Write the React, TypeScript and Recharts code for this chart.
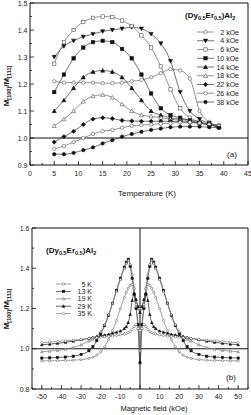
import React from "react";
import { LineChart, Line, XAxis, YAxis, ReferenceLine, ReferenceArea } from "recharts";

// ---- panel (a): ratio vs temperature, one curve per applied field ----
const temps = [5, 7, 9, 11, 13, 15, 17, 19, 21, 23, 25, 27, 29, 31, 33, 35, 37, 39];
const k2 = [1.21, 1.205, 1.205, 1.205, 1.205, 1.203, 1.203, 1.205, 1.21, 1.215, 1.225, 1.24, 1.255, 1.25, 1.22, 1.1, 1.06, 1.045];
const k4 = [1.3, 1.34, 1.36, 1.375, 1.385, 1.395, 1.4, 1.405, 1.41, 1.405, 1.385, 1.35, 1.285, 1.17, 1.1, 1.07, 1.055, 1.045];
const k6 = [1.275, 1.355, 1.4, 1.43, 1.445, 1.45, 1.448, 1.435, 1.415, 1.38, 1.335, 1.265, 1.18, 1.11, 1.075, 1.06, 1.05, 1.045];
const k10 = [1.17, 1.235, 1.295, 1.335, 1.355, 1.36, 1.355, 1.33, 1.295, 1.235, 1.165, 1.11, 1.085, 1.075, 1.065, 1.055, 1.05, 1.04];
const k14 = [1.1, 1.14, 1.185, 1.225, 1.245, 1.25, 1.245, 1.225, 1.185, 1.14, 1.1, 1.085, 1.075, 1.07, 1.065, 1.06, 1.05, 1.04];
const k18 = [1.045, 1.07, 1.1, 1.135, 1.155, 1.16, 1.15, 1.125, 1.1, 1.085, 1.08, 1.075, 1.07, 1.065, 1.06, 1.055, 1.05, 1.045];
const k22 = [0.985, 1.005, 1.025, 1.05, 1.07, 1.075, 1.072, 1.065, 1.063, 1.062, 1.062, 1.062, 1.062, 1.06, 1.058, 1.055, 1.05, 1.04];
const k26 = [0.96, 0.97, 0.985, 1.0, 1.015, 1.025, 1.03, 1.038, 1.045, 1.048, 1.05, 1.053, 1.055, 1.058, 1.058, 1.055, 1.05, 1.045];
const k38 = [0.94, 0.94, 0.945, 0.955, 0.965, 0.98, 0.992, 1.005, 1.015, 1.023, 1.03, 1.035, 1.04, 1.042, 1.042, 1.042, 1.04, 1.038];

const tempTicksMajor = [0, 5, 10, 15, 20, 25, 30, 35, 40, 45];
const tempTicksMinor = [2.5, 7.5, 12.5, 17.5, 22.5, 27.5, 32.5, 37.5, 42.5];
const ratioTicksMajorA = [0.9, 1.0, 1.1, 1.2, 1.3, 1.4, 1.5];
const ratioTicksMinorA = [0.95, 1.05, 1.15, 1.25, 1.35, 1.45];

// ---- panel (b): ratio vs field, one curve per temperature ----
const fields = [-50, -46, -42, -38, -34, -30, -26, -24, -22, -20, -18, -16, -14, -12, -10, -8, -7, -6, -5, -4, -3, -2, -1, 0,
  1, 2, 3, 4, 5, 6, 7, 8, 10, 12, 14, 16, 18, 20, 22, 24, 26, 30, 34, 38, 42, 46, 50];
const t5 = [0.94, 0.94, 0.941, 0.942, 0.943, 0.946, 0.952, 0.958, 0.968, 0.985, 1.01, 1.045, 1.09, 1.14, 1.2, 1.255, 1.28, 1.3, 1.315, 1.32, 1.3, 1.22, 1.2, 1.2,
  1.2, 1.22, 1.3, 1.32, 1.315, 1.3, 1.28, 1.255, 1.2, 1.14, 1.09, 1.045, 1.01, 0.985, 0.968, 0.958, 0.952, 0.946, 0.943, 0.942, 0.941, 0.94, 0.94];
const t13 = [0.954, 0.955, 0.957, 0.959, 0.963, 0.972, 0.99, 1.01, 1.04, 1.075, 1.115, 1.165, 1.225, 1.29, 1.35, 1.405, 1.43, 1.445, 1.41, 1.35, 1.27, 1.2, 1.12, 0.93,
  1.12, 1.2, 1.27, 1.35, 1.41, 1.445, 1.43, 1.405, 1.35, 1.29, 1.225, 1.165, 1.115, 1.075, 1.04, 1.01, 0.99, 0.972, 0.963, 0.959, 0.957, 0.955, 0.954];
const t19 = [0.985, 0.988, 0.992, 0.998, 1.006, 1.02, 1.038, 1.048, 1.062, 1.085, 1.12, 1.17, 1.225, 1.285, 1.345, 1.4, 1.425, 1.44, 1.42, 1.37, 1.3, 1.21, 1.1, 0.99,
  1.1, 1.21, 1.3, 1.37, 1.42, 1.44, 1.425, 1.4, 1.345, 1.285, 1.225, 1.17, 1.12, 1.085, 1.062, 1.048, 1.038, 1.02, 1.006, 0.998, 0.992, 0.988, 0.985];
const t29 = [1.02, 1.023, 1.027, 1.032, 1.038, 1.045, 1.052, 1.056, 1.06, 1.064, 1.068, 1.072, 1.077, 1.082, 1.088, 1.1, 1.11, 1.13, 1.17, 1.24, 1.275, 1.245, 1.21, 1.18,
  1.21, 1.245, 1.275, 1.24, 1.17, 1.13, 1.11, 1.1, 1.088, 1.082, 1.077, 1.072, 1.068, 1.064, 1.06, 1.056, 1.052, 1.045, 1.038, 1.032, 1.027, 1.023, 1.02];
const t35 = [1.03, 1.033, 1.036, 1.039, 1.043, 1.047, 1.051, 1.053, 1.055, 1.057, 1.059, 1.061, 1.063, 1.066, 1.069, 1.073, 1.076, 1.08, 1.085, 1.095, 1.11, 1.12, 1.1, 1.09,
  1.1, 1.12, 1.11, 1.095, 1.085, 1.08, 1.076, 1.073, 1.069, 1.066, 1.063, 1.061, 1.059, 1.057, 1.055, 1.053, 1.051, 1.047, 1.043, 1.039, 1.036, 1.033, 1.03];

const fieldTicksMajor = [-50, -40, -30, -20, -10, 0, 10, 20, 30, 40, 50];
const fieldTicksMinor = [-55, -45, -35, -25, -15, -5, 5, 15, 25, 35, 45, 55];
const ratioTicksMajorB = [0.8, 1.0, 1.2, 1.4, 1.6];
const ratioTicksMinorB = [0.9, 1.1, 1.3, 1.5];

type Shape = "circle" | "square" | "triUp" | "triDown" | "diamond";

const seriesA = [
  { key: "k2", name: "2 kOe", values: k2, shape: "circle" as Shape, filled: false },
  { key: "k4", name: "4 kOe", values: k4, shape: "triDown" as Shape, filled: true },
  { key: "k6", name: "6 kOe", values: k6, shape: "square" as Shape, filled: false },
  { key: "k10", name: "10 kOe", values: k10, shape: "square" as Shape, filled: true },
  { key: "k14", name: "14 kOe", values: k14, shape: "triUp" as Shape, filled: true },
  { key: "k18", name: "18 kOe", values: k18, shape: "triUp" as Shape, filled: false },
  { key: "k22", name: "22 kOe", values: k22, shape: "diamond" as Shape, filled: true },
  { key: "k26", name: "26 kOe", values: k26, shape: "circle" as Shape, filled: false },
  { key: "k38", name: "38 kOe", values: k38, shape: "circle" as Shape, filled: true },
];

const seriesB = [
  { key: "t5", name: "5 K", values: t5, shape: "circle" as Shape, filled: false },
  { key: "t13", name: "13 K", values: t13, shape: "square" as Shape, filled: true },
  { key: "t19", name: "19 K", values: t19, shape: "triUp" as Shape, filled: false },
  { key: "t29", name: "29 K", values: t29, shape: "triUp" as Shape, filled: true },
  { key: "t35", name: "35 K", values: t35, shape: "diamond" as Shape, filled: false },
];

const rowsA = temps.map((T, i) => {
  const row: Record<string, number> = { T };
  seriesA.forEach((s) => (row[s.key] = s.values[i]));
  return row;
});
const rowsB = fields.map((H, i) => {
  const row: Record<string, number> = { H };
  seriesB.forEach((s) => (row[s.key] = s.values[i]));
  return row;
});

const FONT = "'Liberation Sans', Arial, sans-serif";
const INK = "#111";

function Marker({ cx, cy, shape, filled, r, stroke }: { cx: number; cy: number; shape: Shape; filled: boolean; r: number; stroke: string }) {
  const fill = filled ? INK : "#fff";
  const sw = 0.6;
  if (shape === "circle") return <circle cx={cx} cy={cy} r={r} fill={fill} stroke={stroke} strokeWidth={sw} />;
  if (shape === "square")
    return <rect x={cx - r} y={cy - r} width={2 * r} height={2 * r} fill={fill} stroke={stroke} strokeWidth={sw} />;
  if (shape === "diamond") {
    const d = r * 1.25;
    return <polygon points={`${cx},${cy - d} ${cx + d},${cy} ${cx},${cy + d} ${cx - d},${cy}`} fill={fill} stroke={stroke} strokeWidth={sw} />;
  }
  const h = r * 1.2;
  const pts =
    shape === "triUp"
      ? `${cx},${cy - h} ${cx + h},${cy + h * 0.8} ${cx - h},${cy + h * 0.8}`
      : `${cx},${cy + h} ${cx + h},${cy - h * 0.8} ${cx - h},${cy - h * 0.8}`;
  return <polygon points={pts} fill={fill} stroke={stroke} strokeWidth={sw} />;
}

function dotFor(shape: Shape, filled: boolean, r: number, stroke: string) {
  return (p: any) => {
    if (p.cx == null || p.cy == null) return <g key={p.index} />;
    return (
      <g key={p.index}>
        <Marker cx={p.cx} cy={p.cy} shape={shape} filled={filled} r={r} stroke={stroke} />
      </g>
    );
  };
}

const isIn = (list: number[], v: number) => list.some((m) => Math.abs(m - v) < 1e-9);

// ticks drawn inward from the frame, labels outside
function bottomTick(majors: number[], gap: number) {
  return (p: any) => {
    const v = p.payload.value;
    const major = isIn(majors, v);
    return (
      <g key={p.index}>
        <line x1={p.x} y1={p.y} x2={p.x} y2={p.y - (major ? 4 : 2)} stroke={INK} strokeWidth={0.8} />
        {major && (
          <text x={p.x} y={p.y + gap} textAnchor="middle" fontSize={7} fill="#222" fontFamily={FONT}>
            {String(v)}
          </text>
        )}
      </g>
    );
  };
}

function leftTick(majors: number[]) {
  return (p: any) => {
    const v = p.payload.value;
    const major = isIn(majors, v);
    return (
      <g key={p.index}>
        <line x1={p.x} y1={p.y} x2={p.x + (major ? 4 : 2)} y2={p.y} stroke={INK} strokeWidth={0.8} />
        {major && (
          <text x={p.x - 2.5} y={p.y + 2.5} textAnchor="end" fontSize={7} fill="#222" fontFamily={FONT}>
            {v.toFixed(1)}
          </text>
        )}
      </g>
    );
  };
}

function RatioLabel({ x, y }: { x: number; y: number }) {
  return (
    <text transform={`translate(${x},${y}) rotate(-90)`} textAnchor="middle" fontSize={8} fontWeight="bold" fill="#111" fontFamily={FONT}>
      M<tspan fontSize={5.5} dy={2}>[100]</tspan>
      <tspan dy={-2}>/M</tspan>
      <tspan fontSize={5.5} dy={2}>[111]</tspan>
    </text>
  );
}

function Compound({ x, y }: { x: number; y: number }) {
  return (
    <text x={x} y={y} fontSize={8} fontWeight="bold" fill="#111" fontFamily={FONT}>
      (Dy<tspan fontSize={5.5} dy={2}>0.5</tspan>
      <tspan dy={-2}>Er</tspan>
      <tspan fontSize={5.5} dy={2}>0.5</tspan>
      <tspan dy={-2}>)Al</tspan>
      <tspan fontSize={5.5} dy={2}>2</tspan>
    </text>
  );
}

export default function App() {
  return (
    <div style={{ position: "absolute", left: 0, top: 0, width: 251, height: 415, background: "#fff", fontFamily: FONT }}>
      <div style={{ position: "absolute", left: 0, top: 0 }}>
        <LineChart width={251} height={205} data={rowsA} margin={{ top: 3, right: 3, left: 0, bottom: 0 }}>
          <XAxis
            dataKey="T"
            type="number"
            domain={[0, 45]}
            ticks={[...tempTicksMajor, ...tempTicksMinor]}
            interval={0}
            height={40}
            tickSize={0}
            tickMargin={0}
            tickLine={false}
            axisLine={false}
            tick={bottomTick(tempTicksMajor, 10.5)}
          />
          <YAxis
            type="number"
            domain={[0.9, 1.5]}
            ticks={[...ratioTicksMajorA, ...ratioTicksMinorA]}
            interval={0}
            width={30}
            tickSize={0}
            tickMargin={0}
            tickLine={false}
            axisLine={false}
            tick={leftTick(ratioTicksMajorA)}
          />
          <ReferenceArea x1={0} x2={45} y1={0.9} y2={1.5} fill="none" stroke={INK} strokeWidth={1} ifOverflow="visible" />
          <ReferenceLine y={1.0} stroke={INK} strokeWidth={1} />
          {seriesA.map((s) => (
            <Line
              key={s.key}
              dataKey={s.key}
              type="monotone"
              stroke={s.filled ? "#333" : "#666"}
              strokeWidth={0.7}
              dot={dotFor(s.shape, s.filled, 1.7, s.filled ? INK : "#555")}
              activeDot={false}
              isAnimationActive={false}
            />
          ))}
        </LineChart>
      </div>
      <div style={{ position: "absolute", left: 0, top: 205 }}>
        <LineChart width={251} height={210} data={rowsB} margin={{ top: 23, right: 3, left: 0, bottom: 0 }}>
          <XAxis
            dataKey="H"
            type="number"
            domain={[-55, 55]}
            ticks={[...fieldTicksMajor, ...fieldTicksMinor]}
            interval={0}
            height={26}
            tickSize={0}
            tickMargin={0}
            tickLine={false}
            axisLine={false}
            tick={bottomTick(fieldTicksMajor, 9.5)}
          />
          <YAxis
            type="number"
            domain={[0.8, 1.6]}
            ticks={[...ratioTicksMajorB, ...ratioTicksMinorB]}
            interval={0}
            width={32}
            tickSize={0}
            tickMargin={0}
            tickLine={false}
            axisLine={false}
            tick={leftTick(ratioTicksMajorB)}
          />
          <ReferenceArea x1={-55} x2={55} y1={0.8} y2={1.6} fill="none" stroke={INK} strokeWidth={1} ifOverflow="visible" />
          <ReferenceLine y={1.0} stroke={INK} strokeWidth={1} />
          <ReferenceLine x={0} stroke={INK} strokeWidth={1} />
          {seriesB.map((s) => (
            <Line
              key={s.key}
              dataKey={s.key}
              type="monotone"
              stroke={s.filled ? "#222" : "#777"}
              strokeWidth={0.7}
              dot={dotFor(s.shape, s.filled, 1.1, s.filled ? INK : "#666")}
              activeDot={false}
              isAnimationActive={false}
            />
          ))}
        </LineChart>
      </div>
      <svg width={251} height={415} style={{ position: "absolute", left: 0, top: 0, pointerEvents: "none" }}>
        {/* panel (a) titles and legend */}
        <RatioLabel x={9} y={86} />
        <text x={147} y={196} textAnchor="middle" fontSize={8} fill="#111" fontFamily={FONT}>
          Temperature (K)
        </text>
        <Compound x={185} y={18} />
        {seriesA.map((s, i) => {
          const y = 32 + i * 8.75;
          return (
            <g key={s.key}>
              <line x1={197} y1={y} x2={214} y2={y} stroke={s.filled ? "#333" : "#666"} strokeWidth={0.7} />
              <Marker cx={205.5} cy={y} shape={s.shape} filled={s.filled} r={1.7} stroke={s.filled ? INK : "#555"} />
              <text x={239} y={y + 2.5} textAnchor="end" fontSize={7} fill="#222" fontFamily={FONT}>
                {s.name}
              </text>
            </g>
          );
        })}
        <text x={232} y={157} textAnchor="middle" fontSize={8} fill="#111" fontFamily={FONT}>
          (a)
        </text>

        {/* panel (b) titles and legend */}
        <RatioLabel x={9} y={309} />
        <text x={154} y={410.5} textAnchor="middle" fontSize={7.5} fill="#111" fontFamily={FONT}>
          Magnetic field (kOe)
        </text>
        <Compound x={46} y={253} />
        {seriesB.map((s, i) => {
          const y = 284 + i * 7.4;
          return (
            <g key={s.key}>
              <line x1={56} y1={y} x2={71} y2={y} stroke={s.filled ? "#222" : "#777"} strokeWidth={0.7} />
              <Marker cx={63.5} cy={y} shape={s.shape} filled={s.filled} r={1.2} stroke={s.filled ? INK : "#666"} />
              <text x={92} y={y + 2.5} textAnchor="end" fontSize={7} fill="#222" fontFamily={FONT}>
                {s.name}
              </text>
            </g>
          );
        })}
        <text x={231} y={380} textAnchor="middle" fontSize={8} fill="#111" fontFamily={FONT}>
          (b)
        </text>
      </svg>
    </div>
  );
}
